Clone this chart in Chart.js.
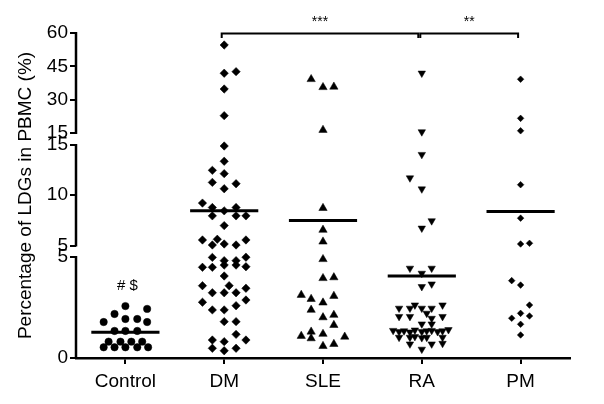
<!DOCTYPE html>
<html>
<head>
<meta charset="utf-8">
<script src="https://cdn.jsdelivr.net/npm/chart.js@4.4.1/dist/chart.umd.min.js"></script>
<style>
  html, body { margin: 0; padding: 0; background: #fff; }
  #chart { display: block; }
</style>
</head>
<body>
<canvas id="chart" width="604" height="404"></canvas>
<script>
const categories = ['Control', 'DM', 'SLE', 'RA', 'PM'];

// values, jitter = horizontal spread of the dots (in category units)
const controlValues = [2.57, 2.43, 2.18, 1.93, 1.93, 1.78, 1.78, 1.34, 1.34, 1.34, 0.81, 0.81, 0.81, 0.81, 0.53, 0.53, 0.53, 0.53, 0.53];
const controlJitter = [0, 0.22, -0.11, 0, 0.12, -0.22, 0.22, -0.11, 0, 0.12, -0.17, -0.05, 0.06, 0.17, -0.22, -0.11, 0, 0.12, 0.23];

const dmValues = [54.6, 41.9, 42.6, 34.8, 22.8,
  14.9, 13.38, 12.48, 12.15, 11.28, 10.65, 11.15, 9.22, 8.78, 8.78, 8.45, 7.95, 7.95, 7.95, 6.98,
  5.55, 5.55, 5.62, 5.05, 5.15, 5.05,
  4.98, 4.82, 4.82, 4.99, 4.49, 4.49, 4.6, 4.6, 4.52, 4.06, 3.58, 3.58, 3.45, 3.23, 3.23, 3.23,
  2.76, 2.87, 2.59, 2.38, 2.38, 1.8, 1.8, 1.17, 0.89, 0.89, 0.81, 0.48, 0.48, 0.36];
const dmJitter = [0, 0, 0.12, 0, 0,
  0, 0, -0.12, 0, -0.12, 0, 0.12, -0.22, -0.12, 0.12, 0, -0.12, 0.12, 0.22, 0,
  -0.22, 0.22, -0.07, -0.12, 0, 0.12,
  -0.12, 0, 0.12, 0.22, -0.22, -0.12, 0, 0.12, 0.22, 0, -0.22, 0.05, 0.22, -0.12, 0, 0.12,
  -0.22, 0.22, 0.12, -0.12, 0, 0, 0.12, 0.12, -0.12, 0.22, 0, -0.12, 0.12, 0];

const sleValues = [39.2, 35.6, 35.8, 16.35, 8.72, 6.55, 5.38, 4.89, 3.95, 3.99, 3.12, 2.92, 2.74, 3.07, 2.38, 2.01, 2.13, 1.63, 1.09, 1.3, 0.97, 1.19, 1.05, 0.59, 0.69];
const sleJitter = [-0.12, 0, 0.11, 0, 0, 0, 0, 0, 0, 0.11, -0.22, -0.12, 0, 0.11, -0.12, 0, 0.11, 0.11, -0.22, -0.12, -0.12, 0, 0.22, 0, 0.11];

const raValues = [41.9, 15.5, 14.05, 11.72, 10.62, 7.45, 6.72,
  4.44, 4.19, 4.44, 3.53, 3.66,
  2.62, 2.62, 2.46, 2.46, 2.46, 2.46, 2.21, 2.05, 2.05, 2.05, 1.96, 1.68, 1.68,
  1.36, 1.3, 1.34, 1.28, 1.38, 1.3, 1.34, 1.36, 1.3, 1.34, 1.4,
  1.02, 1.02, 1.06, 1.0, 1.02, 1.02, 0.69, 0.69, 0.72, 0.43];
const raJitter = [0, 0, 0, -0.12, 0, 0.1, 0,
  -0.12, 0, 0.1, 0, 0.1,
  -0.07, 0.21, -0.23, -0.12, 0, 0.1, 0.05, -0.23, -0.12, 0.21, 0.1, 0, 0.1,
  -0.29, -0.23, -0.18, -0.12, -0.07, 0, 0.05, 0.1, 0.16, 0.21, 0.27,
  -0.23, -0.12, -0.07, 0, 0.05, 0.21, -0.12, 0.1, 0.21, 0];

const pmValues = [39.2, 21.6, 16.0, 11.05, 7.72, 5.15, 5.22, 3.83, 3.61, 2.62, 2.21, 2.08, 1.97, 1.67, 1.14];
const pmJitter = [0, 0, 0, 0, 0, 0, 0.09, -0.09, 0, 0.09, 0, 0.09, -0.09, 0, 0];

const groupMeans = [1.28, 8.45, 7.48, 4.06, 8.38];

// broken y axis: three pieces, each with its own ticks
const yTicksLow = [0, 5];
const yTicksMid = [5, 10, 15];
const yTicksTop = [15, 30, 45, 60];

const brackets = [
  { from: 1, to: 3, label: '***' },
  { from: 3, to: 4, label: '**' },
];
const controlNote = '# $';

// pixel heights (from the bottom) of each axis piece
const segments = [
  { from: 0, to: 5, start: 0, end: 101 },
  { from: 5, to: 15, start: 112.5, end: 213 },
  { from: 15, to: 60, start: 225, end: 325 },
];
const axisSpan = 325;

function segmentFor(v) {
  if (v < 5) return segments[0];
  if (v <= 15) return segments[1];
  return segments[2];
}

class BrokenScale extends Chart.LinearScale {
  getPixelForValue(value) {
    const s = segmentFor(value);
    const px = s.start + (value - s.from) / (s.to - s.from) * (s.end - s.start);
    return this.getPixelForDecimal(px / axisSpan);
  }
}
BrokenScale.id = 'broken';
BrokenScale.defaults = Chart.LinearScale.defaults;
Chart.register(BrokenScale);

const font = "'Liberation Sans', Arial, Helvetica, sans-serif";
const meanHalfWidth = 0.345;

function points(index, values, jitter) {
  return values.map((v, i) => ({ x: index + jitter[i], y: v }));
}

function meanLine(index) {
  const m = groupMeans[index];
  return [{ x: index - meanHalfWidth, y: m }, { x: index + meanHalfWidth, y: m }];
}

const groups = [
  { values: controlValues, jitter: controlJitter, style: 'circle', radius: 3.7, rotation: 0 },
  { values: dmValues, jitter: dmJitter, style: 'rectRot', radius: 4.2, rotation: 0 },
  { values: sleValues, jitter: sleJitter, style: 'triangle', radius: 4.8, rotation: 0 },
  { values: raValues, jitter: raJitter, style: 'triangle', radius: 4.3, rotation: 180 },
  { values: pmValues, jitter: pmJitter, style: 'rectRot', radius: 3.3, rotation: 0 },
];

const datasets = [];
groups.forEach((g, i) => {
  datasets.push({
    label: categories[i] + ' mean',
    data: meanLine(i),
    showLine: true,
    borderColor: '#000',
    borderWidth: 3,
    pointRadius: 0,
  });
  datasets.push({
    label: categories[i],
    data: points(i, g.values, g.jitter),
    pointStyle: g.style,
    pointRadius: g.radius,
    pointRotation: g.rotation,
    backgroundColor: '#000',
    borderColor: '#000',
    borderWidth: 0.5,
  });
});

const extras = {
  id: 'extras',
  beforeDraw(chart) {
    const ctx = chart.ctx;
    ctx.save();
    ctx.fillStyle = '#fff';
    ctx.fillRect(0, 0, chart.width, chart.height);
    ctx.restore();
  },
  afterDraw(chart) {
    const { ctx, chartArea, scales: { x, y } } = chart;
    ctx.save();
    ctx.strokeStyle = '#000';
    ctx.lineWidth = 2.5;
    segments.forEach(s => {
      ctx.beginPath();
      ctx.moveTo(chartArea.left, y.getPixelForDecimal(s.start / axisSpan) + 1);
      ctx.lineTo(chartArea.left, y.getPixelForDecimal(s.end / axisSpan) - 1);
      ctx.stroke();
    });

    // significance brackets
    const top = y.getPixelForValue(60) + 0.5;
    ctx.lineWidth = 2;
    ctx.fillStyle = '#000';
    ctx.font = '14px ' + font;
    ctx.textAlign = 'center';
    ctx.textBaseline = 'alphabetic';
    brackets.forEach((b, i) => {
      const x1 = x.getPixelForValue(b.from) - (i === 0 ? 2.5 : 1.5);
      const x2 = x.getPixelForValue(b.to) - (i === 0 ? 3.5 : 2.5);
      ctx.beginPath();
      ctx.moveTo(x1, top + 4.5);
      ctx.lineTo(x1, top);
      ctx.lineTo(x2, top);
      ctx.lineTo(x2, top + 4.5);
      ctx.stroke();
      ctx.fillText(b.label, (x1 + x2) / 2, top - 7.5);
    });

    ctx.font = '15px ' + font;
    ctx.textBaseline = 'middle';
    ctx.fillText(controlNote, x.getPixelForValue(0) + 2, y.getPixelForValue(3.55));
    ctx.restore();
  }
};

new Chart(document.getElementById('chart'), {
  type: 'scatter',
  data: { datasets },
  plugins: [extras],
  options: {
    responsive: false,
    animation: false,
    devicePixelRatio: 1,
    layout: { padding: { top: 33, right: 34, bottom: 0, left: 0 } },
    plugins: { legend: { display: false }, tooltip: { enabled: false } },
    scales: {
      x: {
        type: 'linear',
        min: -0.5,
        max: 4.5,
        afterBuildTicks: s => { s.ticks = categories.map((c, i) => ({ value: i })); },
        afterFit: s => { s.height = 46; },
        ticks: {
          autoSkip: false,
          color: '#000',
          padding: 6,
          font: { family: font, size: 19 },
          callback: v => categories[Math.round(v)],
        },
        grid: { drawOnChartArea: false, drawTicks: true, tickLength: 6, color: '#000', lineWidth: 2 },
        border: { display: true, color: '#000', width: 2.5 },
      },
      y: {
        type: 'broken',
        min: 0,
        max: 60,
        afterBuildTicks: s => {
          s.ticks = [
            ...yTicksLow.map(v => ({ value: v === 5 ? 5 - 1e-6 : v })),
            ...yTicksMid.map(v => ({ value: v })),
            ...yTicksTop.map(v => ({ value: v === 15 ? 15 + 1e-6 : v })),
          ];
        },
        afterFit: s => { s.width = 76; },
        ticks: {
          autoSkip: false,
          color: '#000',
          padding: 2,
          font: { family: font, size: 19 },
          callback: v => Math.round(v),
        },
        grid: { drawOnChartArea: false, drawTicks: true, tickLength: 6, color: '#000', lineWidth: 2 },
        border: { display: false },
        title: {
          display: true,
          text: 'Percentage of LDGs in PBMC (%)',
          color: '#000',
          font: { family: font, size: 19 },
          padding: { top: 14, bottom: 0 },
        },
      },
    },
  },
});
</script>
</body>
</html>
